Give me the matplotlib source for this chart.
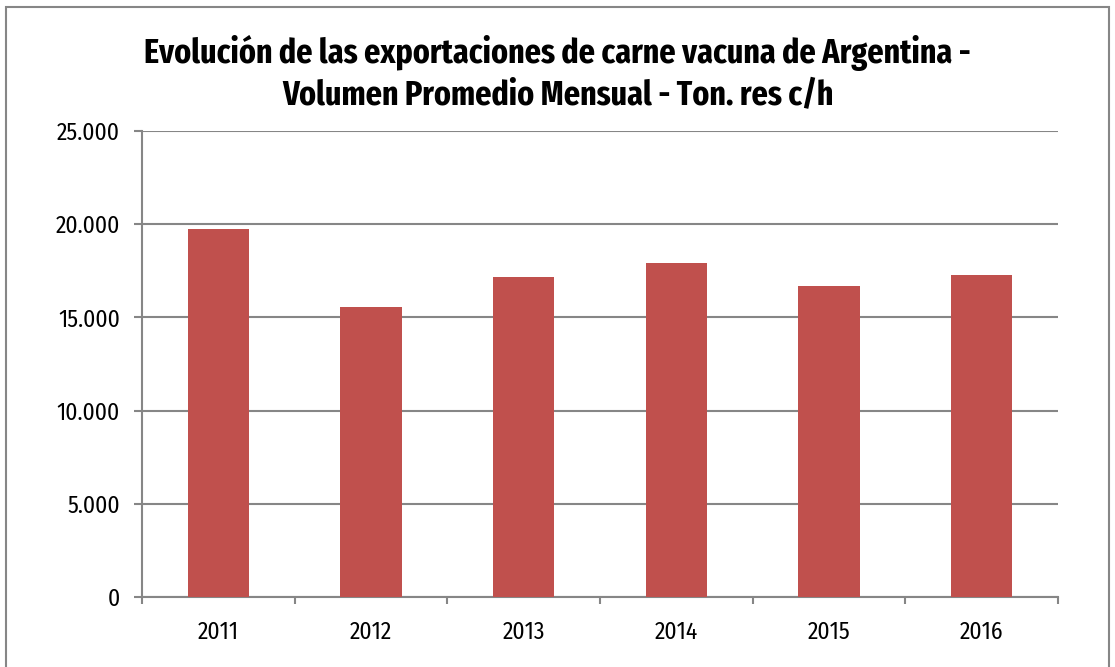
import matplotlib
matplotlib.use("Agg")
import matplotlib.pyplot as plt
import numpy as np
from matplotlib.patches import Rectangle
from matplotlib.ticker import FuncFormatter, FixedLocator

# Data
YEARS = ["2011", "2012", "2013", "2014", "2015", "2016"]
VOLUMES = [19750, 15540, 17160, 17920, 16670, 17280]

TITLE = ("Evolución de las exportaciones de carne vacuna de Argentina -\n"
         "Volumen Promedio Mensual - Ton. res c/h")

BAR_COLOR = "#C0504D"
GRID_COLOR = "#868686"

TICK_FONT = ["Fira Sans Condensed", "DejaVu Sans"]
TITLE_FONT = ["Fira Sans Extra Condensed", "DejaVu Sans"]
plt.rcParams["font.family"] = TICK_FONT

fig = plt.figure(figsize=(11.15, 6.67), dpi=100)
W, H = 1115, 667
# plot area in pixels: x 142..1058, y 131..597
ax = fig.add_axes([142 / W, 1 - 597 / H, (1058 - 142) / W, (597 - 131) / H])

x = np.arange(len(YEARS))
ax.bar(x, VOLUMES, width=0.40, color=BAR_COLOR, zorder=3)

ax.set_xlim(-0.5, len(YEARS) - 0.5)
ax.set_ylim(0, 25000)
ax.set_yticks(np.arange(0, 25001, 5000))
ax.yaxis.set_major_formatter(FuncFormatter(lambda v, p: f"{int(v):,}".replace(",", ".")))
ax.set_xticks(x)
ax.set_xticklabels(YEARS)
ax.xaxis.set_minor_locator(FixedLocator(np.arange(-0.5, len(YEARS), 1.0)))

ax.tick_params(axis="x", which="major", length=0, pad=17, labelsize=17)
ax.tick_params(axis="x", which="minor", length=5, width=1.5, color=GRID_COLOR, direction="out")
ax.tick_params(axis="y", length=6, width=1.5, color=GRID_COLOR, pad=10, labelsize=17)

ax.grid(axis="y", color=GRID_COLOR, linewidth=1.5, zorder=0)
for side in ["top", "right"]:
    ax.spines[side].set_visible(False)
for side in ["left", "bottom"]:
    ax.spines[side].set_color(GRID_COLOR)
    ax.spines[side].set_linewidth(1.5)

fig.text(0.5, 1 - 74 / H, TITLE, ha="center", va="center", fontsize=25,
         fontweight="bold", family=TITLE_FONT, linespacing=1.3)

# outer chart border
fig.patches.append(Rectangle((6 / W, -0.05), (1109 - 6) / W, 1.05 - 7 / H,
                             transform=fig.transFigure, fill=False,
                             edgecolor=GRID_COLOR, linewidth=1.5))

fig.savefig("out.png", dpi=100)
